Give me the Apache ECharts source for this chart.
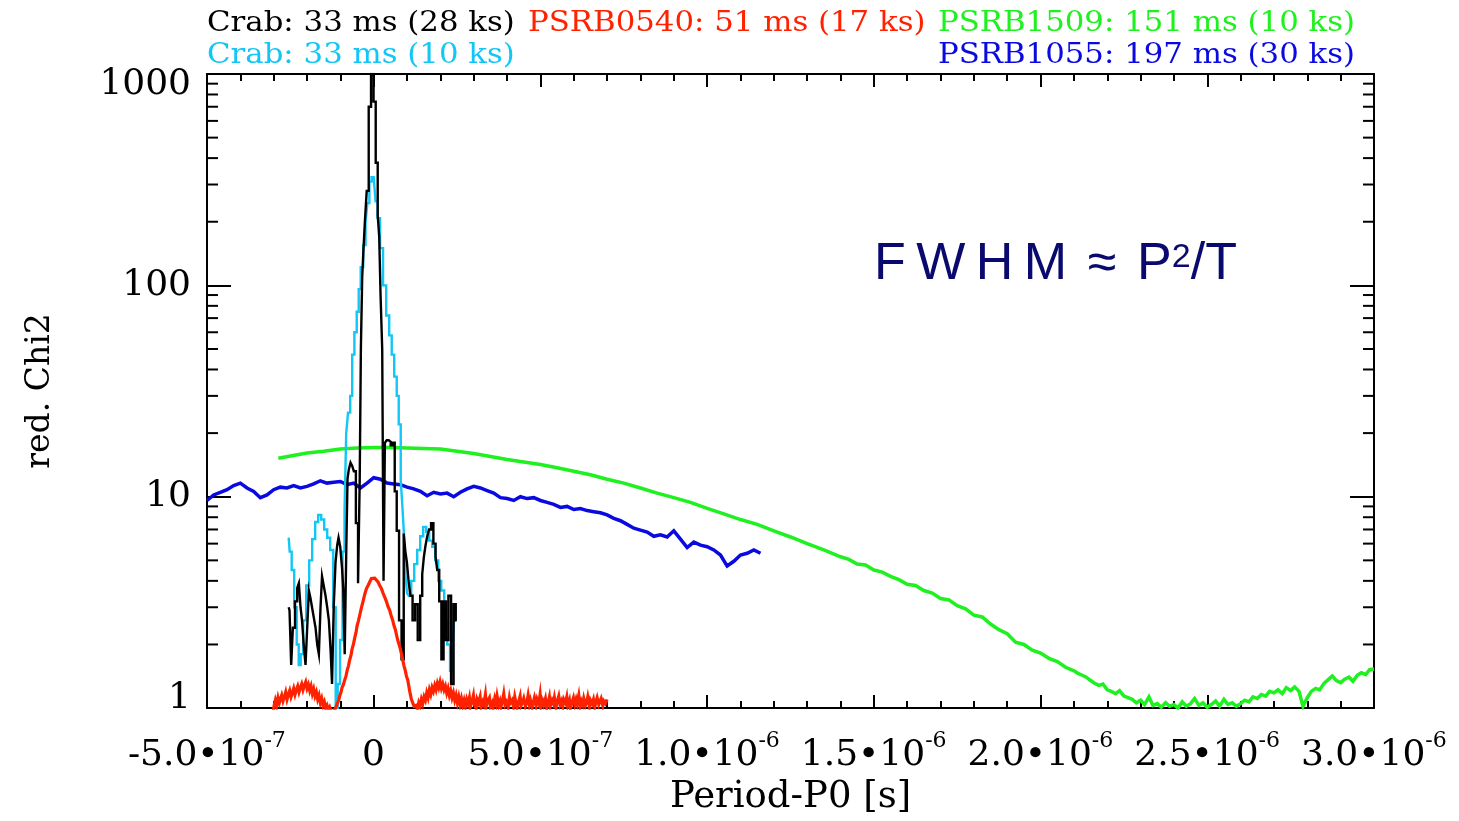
<!DOCTYPE html>
<html>
<head>
<meta charset="utf-8">
<script src="https://cdn.jsdelivr.net/npm/echarts@6/dist/echarts.min.js"></script>
<style>html,body{margin:0;padding:0;background:#fff}#c{width:1459px;height:821px}</style>
</head>
<body>
<div id="c"></div>
<script>
// x values are in units of 1e-7 s (Period - P0), y values are reduced chi2
const xTickValues = [-5, 0, 5, 10, 15, 20, 25, 30];
const xTickMant = ['-5.0', '0', '5.0', '1.0', '1.5', '2.0', '2.5', '3.0'];
const xTickExp = ['-7', '', '-7', '-6', '-6', '-6', '-6', '-6'];
const yMinorTicks = [2,3,4,5,6,7,8,9,20,30,40,50,60,70,80,90,200,300,400,500,600,700,800,900];

const seriesNames = ['Crab: 33 ms (28 ks)', 'PSRB0540: 51 ms (17 ks)', 'PSRB1509: 151 ms (10 ks)', 'Crab: 33 ms (10 ks)', 'PSRB1055: 197 ms (30 ks)'];

const crab28 = [[-2.55,3.0],[-2.50,2.9],[-2.45,1.6],[-2.40,2.4],[-2.32,3.2],[-2.27,3.7],[-2.22,3.9],[-2.17,3.0],[-2.13,2.6],[-2.07,2.0],[-2.02,1.6],[-1.97,2.4],[-1.92,3.6],[-1.87,3.3],[-1.83,3.0],[-1.77,2.7],[-1.72,2.4],[-1.67,2.0],[-1.62,1.8],[-1.57,3.0],[-1.53,4.2],[-1.47,3.8],[-1.42,3.4],[-1.37,3.0],[-1.32,2.6],[-1.27,1.9],[-1.23,1.3],[-1.17,3.0],[-1.12,4.9],[-1.07,5.9],[-1.04,6.4],[-0.97,5.8],[-0.93,4.6],[-0.90,3.7],[-0.84,1.8],[-0.80,6.0],[-0.77,12.2],[-0.72,13.5],[-0.67,14.5],[-0.62,14.0],[-0.57,13.2],[-0.50,7.5],[-0.44,3.9],[-0.40,12],[-0.37,50],[-0.32,110],[-0.29,150],[-0.24,200],[-0.18,280],[-0.12,700],[-0.04,1000],[0.03,740],[0.09,380],[0.15,215],[0.18,170],[0.23,90],[0.28,50],[0.31,4.0],[0.36,18.0],[0.42,18.5],[0.48,18.2],[0.54,17.5],[0.60,18.0],[0.66,10.6],[0.72,6.9],[0.80,2.6],[0.87,1.7],[0.93,6.7],[0.97,5.5],[1.02,4.9],[1.07,4.0],[1.13,3.4],[1.20,2.6],[1.28,3.1],[1.36,2.1],[1.43,3.4],[1.48,4.3],[1.53,5.2],[1.58,5.9],[1.63,6.5],[1.69,7.0],[1.75,7.5],[1.83,6.0],[1.88,5.2],[1.93,4.5],[2.00,3.2],[2.06,1.7],[2.13,3.2],[2.20,2.1],[2.28,3.4],[2.36,1.3],[2.43,3.1],[2.49,2.6]];

const crab10 = [[-2.55,6.4],[-2.49,5.5],[-2.43,4.5],[-2.34,3.0],[-2.28,2.0],[-2.22,1.6],[-2.16,1.8],[-2.07,2.6],[-1.98,3.8],[-1.89,5.0],[-1.80,6.3],[-1.71,7.6],[-1.62,8.2],[-1.53,7.8],[-1.44,7.0],[-1.35,6.4],[-1.26,5.6],[-1.17,3.0],[-1.11,1.0],[-1.05,1.3],[-0.97,2.1],[-0.90,5.5],[-0.85,8.6],[-0.80,20],[-0.74,25],[-0.67,30],[-0.62,47],[-0.54,60],[-0.48,75],[-0.42,96],[-0.36,122],[-0.27,155],[-0.22,198],[-0.16,245],[-0.10,310],[-0.03,325],[0.03,320],[0.08,250],[0.15,208],[0.23,150],[0.33,100],[0.42,72],[0.51,58],[0.57,47],[0.66,37],[0.72,30],[0.78,22],[0.84,12],[0.88,9],[0.93,6.7],[0.98,4.2],[1.02,3.5],[1.08,3.4],[1.17,4.0],[1.26,4.8],[1.35,5.6],[1.44,6.5],[1.53,7.2],[1.62,6.8],[1.71,6.2],[1.80,5.8],[1.89,5.0],[1.98,4.0],[2.07,3.6],[2.16,2.6],[2.25,2.0],[2.33,1.5],[2.40,1.9],[2.44,2.8],[2.49,3.0]];

const psr0540 = [[-3.02,0.95],[-2.98,1.04],[-2.95,1.09],[-2.91,1.03],[-2.87,1.12],[-2.83,1.06],[-2.8,1.1],[-2.76,1.15],[-2.72,1.08],[-2.68,1.13],[-2.64,1.19],[-2.6,1.1],[-2.56,1.16],[-2.52,1.21],[-2.48,1.13],[-2.44,1.18],[-2.4,1.24],[-2.36,1.16],[-2.32,1.22],[-2.28,1.27],[-2.24,1.19],[-2.2,1.25],[-2.16,1.3],[-2.12,1.22],[-2.08,1.28],[-2.04,1.33],[-2.0,1.24],[-1.96,1.29],[-1.92,1.21],[-1.88,1.27],[-1.84,1.17],[-1.8,1.23],[-1.76,1.14],[-1.72,1.19],[-1.68,1.1],[-1.64,1.15],[-1.6,1.06],[-1.56,1.11],[-1.52,1.03],[-1.48,1.07],[-1.44,1.0],[-1.4,1.03],[-1.36,0.98],[-1.32,1.01],[-1.28,0.97],[-1.24,0.99],[-1.2,0.96],[-1.16,0.99],[-1.12,1.01],
[-1.08,1.06],[-1.05,1.09],[-1.02,1.14],[-0.98,1.19],[-0.95,1.25],[-0.91,1.29],[-0.87,1.36],[-0.83,1.42],[-0.8,1.5],[-0.76,1.58],[-0.72,1.69],[-0.68,1.78],[-0.65,1.9],[-0.61,2.0],[-0.57,2.15],[-0.53,2.28],[-0.5,2.45],[-0.46,2.58],[-0.42,2.75],[-0.37,2.98],[-0.32,3.2],[-0.27,3.45],[-0.22,3.67],[-0.17,3.8],[-0.12,3.95],[-0.07,4.1],[-0.02,4.15],[0.03,4.12],[0.08,4.05],[0.13,3.95],[0.18,3.8],[0.23,3.68],[0.28,3.5],[0.33,3.35],[0.38,3.2],[0.43,3.02],[0.48,2.9],[0.52,2.75],[0.57,2.6],[0.61,2.45],[0.65,2.35],[0.69,2.2],[0.72,2.1],[0.76,2.0],[0.8,1.9],[0.84,1.78],[0.87,1.69],[0.91,1.58],[0.95,1.5],[0.98,1.42],[1.02,1.36],[1.05,1.28],[1.08,1.2],[1.11,1.14],[1.13,1.1],[1.16,1.07],[1.18,1.05],[1.21,1.02],[1.23,1.0],
[1.27,1.03],[1.31,0.99],[1.35,1.06],[1.39,1.02],[1.43,1.1],[1.47,1.05],[1.51,1.13],[1.55,1.09],[1.59,1.18],[1.63,1.12],[1.67,1.22],[1.71,1.16],[1.75,1.25],[1.79,1.2],[1.83,1.28],[1.87,1.22],[1.91,1.31],[1.95,1.25],[1.99,1.33],[2.03,1.24],[2.07,1.3],[2.11,1.22],[2.15,1.27],[2.19,1.18],[2.23,1.24],[2.27,1.15],[2.31,1.21],[2.35,1.12],[2.39,1.18],[2.43,1.09],[2.47,1.15],[2.51,1.06],[2.55,1.13],[2.59,1.04],[2.63,1.11],[2.67,1.03],[2.71,1.09],[2.75,1.02],[2.79,1.1],
[2.83,1.05],[2.87,1.12],[2.9,1.02],[2.95,1.08],[2.99,1.15],[3.02,1.04],[3.07,1.0],[3.1,1.1],[3.14,1.06],[3.19,1.13],[3.22,1.01],[3.27,1.07],[3.3,1.04],[3.35,1.16],[3.38,1.03],[3.43,1.09],[3.47,1.12],[3.5,1.02],[3.55,1.06],[3.58,1.0],[3.63,1.11],[3.67,1.05],[3.7,1.14],[3.75,1.03],[3.79,1.08],[3.82,1.02],[3.87,1.1],[3.9,1.17],[3.94,1.04],[3.98,1.07],[4.03,1.01],[4.07,1.12],[4.1,1.06],[4.15,1.09],[4.19,1.02],[4.23,1.13],[4.27,1.05],[4.3,1.0],[4.35,1.08],[4.39,1.14],[4.42,1.03],[4.47,1.07],[4.5,1.11],[4.55,1.02],[4.59,1.06],[4.63,1.15],[4.67,1.04],[4.7,1.09],[4.75,1.01],[4.79,1.07],[4.82,1.12],[4.87,1.03],[4.9,1.1],[4.95,1.05],[4.99,1.16],[5.02,1.02],[5.07,1.08],[5.1,1.04],[5.15,1.11],[5.19,1.0],[5.23,1.06],[5.27,1.13],[5.3,1.03],[5.35,1.09],[5.39,1.05],[5.42,1.12],[5.47,1.01],[5.5,1.07],[5.55,1.14],[5.59,1.04],[5.63,1.08],[5.67,1.02],[5.7,1.1],[5.75,1.06],[5.79,1.13],[5.82,1.03],[5.87,1.09],[5.9,1.0],[5.95,1.07],[5.99,1.12],[6.03,1.04],[6.07,1.1],[6.1,1.05],[6.15,1.15],[6.19,1.02],[6.23,1.08],[6.27,1.04],[6.3,1.11],[6.35,1.03],[6.39,1.07],[6.42,1.13],[6.47,1.02],[6.5,1.09],[6.55,1.05],[6.59,1.1],[6.63,1.01],[6.67,1.08],[6.7,1.12],[6.75,1.04],[6.79,1.06],[6.82,1.11],[6.87,1.03],[6.9,1.08],[6.95,1.05],[7.0,1.1]];

const psr1509 = [[-2.86,15.2],[-2.5,15.6],[-2.0,16.1],[-1.5,16.4],[-1.0,16.8],[-0.5,17.0],[0,17.1],[0.5,17.1],[1.0,17.0],[1.5,16.9],[2.0,16.8],[2.5,16.4],[3.0,16.0],[3.5,15.5],[4.0,15.0],[4.5,14.6],[5.0,14.2],[5.5,13.7],[6.0,13.2],[6.5,12.7],[7.0,12.1],[7.5,11.6],[8.0,11.0],[8.5,10.4],[9.0,9.9],[9.5,9.4],[10.0,8.8],[10.5,8.3],[11.0,7.8],[11.5,7.4],[12.0,6.9],[12.5,6.45],[13.0,6.0],[13.5,5.6],
[14.0,5.2],[14.25,5.05],[14.5,4.8],[14.75,4.75],[15.0,4.5],[15.25,4.4],[15.5,4.2],[15.75,4.05],[16.0,3.85],[16.25,3.8],[16.5,3.6],[16.75,3.5],[17.0,3.3],[17.25,3.25],[17.5,3.05],[17.75,2.95],[18.0,2.75],[18.25,2.7],[18.5,2.5],[18.75,2.35],[19.0,2.25],[19.25,2.05],[19.5,2.0],[19.75,1.88],[20.0,1.82],[20.25,1.72],[20.5,1.66],[20.75,1.56],
[21.0,1.5],[21.12,1.46],[21.25,1.43],[21.37,1.4],[21.5,1.35],[21.62,1.31],[21.75,1.28],[21.87,1.3],[22.0,1.22],[22.12,1.2],[22.25,1.17],[22.37,1.21],[22.5,1.14],[22.62,1.12],[22.75,1.1],[22.87,1.06],[23.0,1.09],[23.12,1.04],[23.25,1.13],[23.37,1.03],[23.5,1.05],[23.62,1.01],[23.75,1.06],[23.87,1.02],[24.0,1.04],[24.12,1.0],[24.25,1.07],[24.37,1.02],[24.5,1.05],[24.62,1.11],[24.75,1.03],[24.87,1.06],[25.0,1.01],[25.12,1.04],[25.25,1.08],[25.37,1.02],[25.5,1.1],[25.62,1.04],[25.75,1.06],[25.87,1.02],[26.0,1.05],[26.12,1.09],[26.25,1.07],[26.37,1.13],[26.5,1.11],[26.62,1.16],[26.75,1.14],[26.87,1.2],[27.0,1.18],[27.12,1.22],[27.25,1.17],[27.37,1.25],[27.5,1.21],[27.62,1.26],[27.75,1.2],[27.87,1.02],[28.0,1.12],[28.12,1.2],[28.25,1.24],[28.37,1.22],[28.5,1.31],[28.62,1.36],[28.75,1.42],[28.87,1.35],[29.0,1.32],[29.12,1.37],[29.25,1.4],[29.37,1.34],[29.5,1.43],[29.62,1.47],[29.75,1.44],[29.87,1.52],[30.0,1.53]];

const psr1055 = [[-5.0,9.6],[-4.8,10.2],[-4.6,10.5],[-4.4,10.8],[-4.2,11.3],[-4.0,11.6],[-3.8,11.0],[-3.6,10.6],[-3.4,9.9],[-3.2,10.2],[-3.0,10.8],[-2.8,11.1],[-2.6,11.0],[-2.4,11.3],[-2.2,11.0],[-2.0,11.2],[-1.8,11.5],[-1.6,11.9],[-1.4,11.6],[-1.2,11.7],[-1.0,11.8],[-0.8,11.4],[-0.6,11.6],[-0.4,11.0],[-0.2,11.6],[0.0,12.3],[0.2,12.1],[0.4,11.6],[0.6,11.5],[0.8,11.4],[1.0,11.1],[1.2,10.9],[1.4,10.6],[1.6,10.1],[1.8,10.5],[2.0,10.3],[2.2,10.4],[2.4,10.0],[2.6,10.5],[2.8,10.9],[3.0,11.2],[3.2,11.0],[3.4,10.7],[3.6,10.4],[3.8,9.9],[4.0,9.8],[4.2,9.6],[4.4,10.0],[4.6,9.8],[4.8,9.9],[5.0,9.6],[5.2,9.4],[5.4,9.2],[5.6,8.9],[5.8,9.0],[6.0,8.7],[6.2,8.8],[6.4,8.6],[6.6,8.5],[6.8,8.4],[7.0,8.2],[7.2,7.9],[7.4,7.7],[7.6,7.4],[7.8,7.1],[8.0,6.95],[8.2,6.8],[8.4,6.5],[8.6,6.6],[8.8,6.45],[9.0,6.9],[9.2,6.3],[9.4,5.75],[9.6,6.1],[9.8,5.9],[10.0,5.8],[10.2,5.6],[10.4,5.3],[10.6,4.7],[10.8,4.95],[11.0,5.3],[11.2,5.4],[11.4,5.6],[11.6,5.4]];

const X_MIN = -5, X_MAX = 30;
const SERIF = '"DejaVu Serif", "Liberation Serif", serif';
const SANS = '"Liberation Sans", Arial, sans-serif';

const chart = echarts.init(document.getElementById('c'), null, {renderer: 'canvas'});

const tickLabelRich = {
  m: {fontSize: 36, fontFamily: SERIF, color: '#000', lineHeight: 30, verticalAlign: 'bottom'},
  e: {fontSize: 22, fontFamily: SERIF, color: '#000', lineHeight: 20, verticalAlign: 'top'},
  s: {fontSize: 1, lineHeight: 44}
};

function xLabel(v) {
  const i = xTickValues.indexOf(Math.round(v));
  if (i < 0) return '';
  if (xTickExp[i] === '') return '{m|' + xTickMant[i] + '}{s| }';
  return '{m|' + xTickMant[i] + '\u202210}{e|' + xTickExp[i] + '}{s| }';
}

const axisLineStyle = {color: '#000', width: 2};

function lineSeries(name, data, color, width, step) {
  return {
    name: name, type: 'line', data: data, showSymbol: false, symbol: 'none',
    step: step || false, clip: true, animation: false, silent: true,
    lineStyle: {color: color, width: width, join: 'miter'}
  };
}

const option = {
  backgroundColor: '#fff',
  animation: false,
  grid: {left: 207, top: 74, width: 1167, height: 648, containLabel: false},
  xAxis: [{
    type: 'value', min: X_MIN, max: X_MAX, interval: 5, position: 'bottom',
    axisLine: {show: true, onZero: false, lineStyle: axisLineStyle},
    axisTick: {show: true, inside: true, length: 13, lineStyle: {color: '#000', width: 2}},
    minorTick: {show: true, splitNumber: 5, length: 7, lineStyle: {color: '#000', width: 2}},
    splitLine: {show: false}, minorSplitLine: {show: false},
    axisLabel: {margin: 22, formatter: xLabel, rich: tickLabelRich},
    name: 'Period-P0 [s]', nameLocation: 'middle', nameGap: 64,
    nameTextStyle: {fontFamily: SERIF, fontSize: 37, color: '#000'}
  }, {
    type: 'value', min: X_MIN, max: X_MAX, interval: 5, position: 'top',
    axisLine: {show: true, onZero: false, lineStyle: axisLineStyle},
    axisTick: {show: true, inside: true, length: 13, lineStyle: {color: '#000', width: 2}},
    minorTick: {show: true, splitNumber: 5, length: 7, lineStyle: {color: '#000', width: 2}},
    splitLine: {show: false}, axisLabel: {show: false}
  }],
  yAxis: [{
    type: 'log', logBase: 10, min: 1, max: 1000, position: 'left',
    axisLine: {show: true, onZero: false, lineStyle: axisLineStyle},
    axisTick: {show: true, inside: true, length: 24, lineStyle: {color: '#000', width: 2}},
    splitLine: {show: false},
    axisLabel: {
      margin: 16,
      formatter: function (v) {
        if (v === 1000) return '{hi|' + v + '}';
        if (v === 1) return '{lo|' + v + '}';
        return '{n|' + v + '}';
      },
      rich: {
        n: {fontSize: 36, fontFamily: SERIF, color: '#000'},
        hi: {fontSize: 36, fontFamily: SERIF, color: '#000', padding: [22, 0, 0, 0]},
        lo: {fontSize: 36, fontFamily: SERIF, color: '#000', padding: [0, 0, 18, 0]}
      }
    },
    name: 'red. Chi2', nameLocation: 'middle', nameRotate: 90, nameGap: 150,
    nameTextStyle: {fontFamily: SERIF, fontSize: 33, color: '#000'}
  }, {
    type: 'log', logBase: 10, min: 1, max: 1000, position: 'right',
    axisLine: {show: true, onZero: false, lineStyle: axisLineStyle},
    axisTick: {show: true, inside: true, length: 24, lineStyle: {color: '#000', width: 2}},
    splitLine: {show: false}, axisLabel: {show: false}
  }],
  series: [
    lineSeries(seriesNames[2], psr1509, '#1ff01f', 3.5),
    lineSeries(seriesNames[4], psr1055, '#0a0ae0', 3.5),
    lineSeries(seriesNames[3], crab10, '#12c6f6', 2.4, 'middle'),
    lineSeries(seriesNames[0], crab28, '#000000', 2.4, 'middle'),
    lineSeries(seriesNames[1], psr0540, '#ff2200', 3.2),
    {
      type: 'custom', silent: true, clip: false, animation: false, z: 5,
      data: yMinorTicks.map(function (v) { return [X_MIN, v]; }),
      encode: {x: 0, y: 1},
      renderItem: function (params, api) {
        const v = api.value(1);
        const l = api.coord([X_MIN, v]);
        const r = api.coord([X_MAX, v]);
        return {type: 'group', children: [
          {type: 'line', shape: {x1: l[0], y1: l[1], x2: l[0] + 11, y2: l[1]}, style: {stroke: '#000', lineWidth: 2}},
          {type: 'line', shape: {x1: r[0] - 11, y1: r[1], x2: r[0], y2: r[1]}, style: {stroke: '#000', lineWidth: 2}}
        ]};
      }
    }
  ],
  graphic: [
    {type: 'text', x: 207, y: 24, scaleX: 1.1, silent: true,
     style: {text: seriesNames[0], fill: '#000', font: '28px ' + SERIF, align: 'left', verticalAlign: 'middle', textAlign: 'left', textVerticalAlign: 'middle'}},
    {type: 'text', x: 528, y: 24, scaleX: 1.1, silent: true,
     style: {text: seriesNames[1], fill: '#ff2200', font: '28px ' + SERIF, align: 'left', verticalAlign: 'middle', textAlign: 'left', textVerticalAlign: 'middle'}},
    {type: 'text', x: 1355, y: 24, scaleX: 1.1, silent: true,
     style: {text: seriesNames[2], fill: '#1ff01f', font: '28px ' + SERIF, align: 'right', verticalAlign: 'middle', textAlign: 'right', textVerticalAlign: 'middle'}},
    {type: 'text', x: 207, y: 56, scaleX: 1.1, silent: true,
     style: {text: seriesNames[3], fill: '#12c6f6', font: '28px ' + SERIF, align: 'left', verticalAlign: 'middle', textAlign: 'left', textVerticalAlign: 'middle'}},
    {type: 'text', x: 1355, y: 56, scaleX: 1.1, silent: true,
     style: {text: seriesNames[4], fill: '#0a0ae0', font: '28px ' + SERIF, align: 'right', verticalAlign: 'middle', textAlign: 'right', textVerticalAlign: 'middle'}},
    {type: 'text', x: 874, y: 266, silent: true,
     style: {
       text: '{a|F\u2009W\u2009H\u2009M\u2009\u2009}{c|\u2248}{a|\u2009\u2009P}{b|2}{a|/T}{s| }',
       align: 'left', verticalAlign: 'middle', textAlign: 'left', textVerticalAlign: 'middle',
       rich: {
         a: {fontSize: 52, fontFamily: SANS, fill: '#0a0a6e', color: '#0a0a6e', lineHeight: 40, verticalAlign: 'bottom'},
         c: {fontSize: 52, fontFamily: SANS, fill: '#0a0a6e', color: '#0a0a6e', lineHeight: 48, verticalAlign: 'bottom'},
         b: {fontSize: 34, fontFamily: SANS, fill: '#0a0a6e', color: '#0a0a6e', lineHeight: 28, verticalAlign: 'top'},
         s: {fontSize: 1, lineHeight: 50}
       }
     }}
  ]
};

chart.setOption(option);
</script>
</body>
</html>
